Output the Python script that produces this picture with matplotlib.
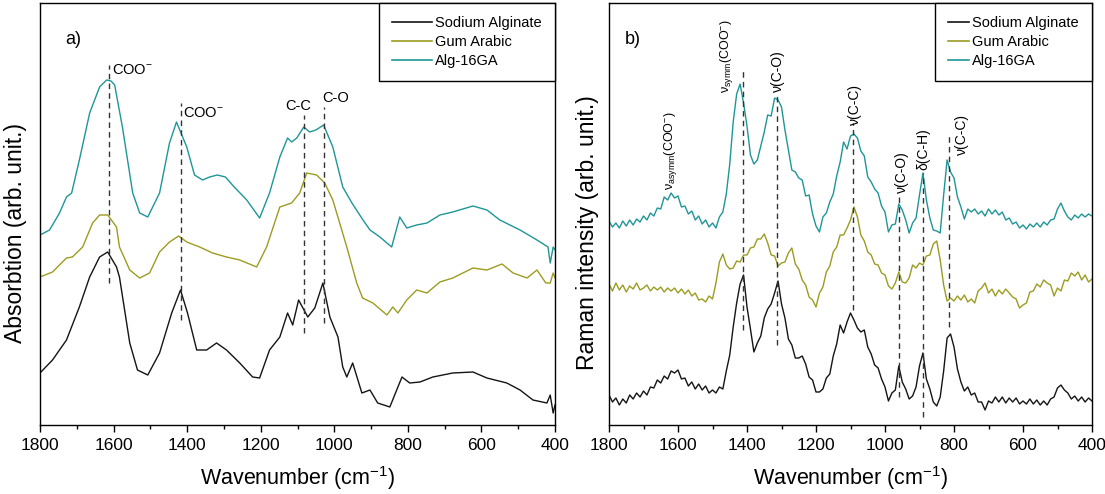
import matplotlib
matplotlib.use("Agg")
import matplotlib.pyplot as plt
from matplotlib.ticker import MultipleLocator

plt.rcParams['font.family'] = ['Liberation Sans', 'DejaVu Sans']
plt.rcParams['mathtext.fontset'] = 'custom'
plt.rcParams['mathtext.rm'] = 'Liberation Sans'
plt.rcParams['mathtext.it'] = 'Liberation Sans:italic'

# ---------------- FTIR (panel a) ----------------
ftir_alg16_wn = [1800, 1774, 1747, 1728, 1714, 1693, 1665, 1638, 1619, 1607, 1597, 1576, 1548, 1529, 1507,
                 1475, 1448, 1429, 1401, 1380, 1358, 1339, 1318, 1296, 1272, 1238, 1203, 1176, 1148, 1127,
                 1116, 1102, 1083, 1067, 1050, 1029, 1004, 977, 952, 922, 903, 876, 844, 822, 803, 776,
                 748, 713, 678, 623, 585, 550, 495, 449, 419, 413, 405, 400]
ftir_alg16_int = [195, 200, 217, 233, 237, 270, 317, 343, 350, 349, 345, 303, 237, 217, 213,
                  237, 287, 308, 283, 255, 250, 253, 255, 253, 243, 230, 212, 237, 273, 292,
                  288, 292, 303, 298, 300, 305, 283, 243, 227, 210, 200, 193, 183, 213, 202, 205,
                  207, 215, 218, 224, 220, 210, 200, 190, 183, 167, 183, 180]

ftir_gum_wn = [1800, 1766, 1728, 1712, 1684, 1657, 1638, 1616, 1592, 1584, 1556, 1529, 1502, 1475, 1448,
               1423, 1401, 1366, 1331, 1293, 1257, 1211, 1184, 1148, 1116, 1094, 1075, 1048, 1026, 1004,
               966, 939, 923, 895, 857, 841, 827, 803, 776, 748, 713, 678, 623, 585, 544, 514, 476,
               449, 425, 413, 405, 400]
ftir_gum_int = [153, 158, 172, 173, 183, 207, 215, 215, 203, 183, 160, 152, 157, 178, 188,
                194, 188, 183, 177, 173, 170, 163, 183, 223, 227, 237, 257, 255, 247, 230,
                183, 147, 132, 127, 115, 123, 117, 130, 140, 137, 148, 152, 162, 160, 166, 157, 152,
                160, 147, 147, 157, 152]

ftir_na_wn = [1800, 1766, 1728, 1693, 1665, 1638, 1616, 1592, 1584, 1556, 1535, 1507, 1475, 1442, 1418,
              1399, 1374, 1347, 1320, 1293, 1257, 1222, 1203, 1176, 1148, 1127, 1113, 1097, 1072, 1053,
              1031, 1012, 990, 977, 966, 950, 925, 903, 882, 849, 816, 795, 767, 732, 678, 623, 585,
              531, 495, 460, 422, 413, 405, 400]
ftir_na_int = [57, 70, 90, 123, 153, 173, 178, 163, 153, 87, 60, 55, 77, 117, 140,
               117, 80, 80, 87, 80, 67, 53, 52, 80, 93, 117, 105, 130, 113, 122,
               147, 113, 93, 63, 53, 67, 37, 40, 27, 23, 53, 47, 48, 53, 57, 58, 52,
               47, 40, 30, 27, 35, 17, 25]

ftir_lines_wn = [1612, 1418, 1082, 1028]
ftir_lines_lo = [147, 110, 97, 107]
ftir_lines_hi = [365, 327, 315, 323]

# ---------------- Raman (panel b) ----------------
raman_wn = list(range(1800, 399, -10))
raman_alg16 = [209, 203, 207, 202, 209, 204, 210, 205, 211, 208, 214, 210, 217, 214, 222, 221, 233, 230, 237, 232,
               234, 223, 224, 216, 219, 210, 214, 206, 210, 203, 207, 202, 213, 218, 236, 266, 308, 336, 346, 327,
               304, 275, 266, 270, 284, 298, 315, 314, 332, 330, 323, 300, 280, 260, 258, 252, 250, 234, 235, 216,
               204, 198, 213, 217, 228, 236, 254, 268, 288, 281, 294, 296, 292, 279, 274, 253, 248, 241, 237, 224,
               218, 198, 205, 206, 226, 220, 210, 197, 207, 212, 235, 257, 230, 212, 200, 199, 197, 235, 270, 258,
               252, 233, 223, 211, 221, 218, 221, 216, 219, 214, 221, 216, 220, 215, 218, 210, 212, 206, 208, 202,
               205, 201, 206, 203, 207, 203, 208, 205, 210, 211, 221, 227, 219, 213, 210, 215, 212, 216, 213, 216,
               214]
raman_gum = [146, 139, 147, 140, 145, 138, 144, 141, 147, 140, 142, 145, 139, 143, 140, 143, 138, 142, 139, 142,
             137, 141, 136, 140, 134, 137, 130, 131, 128, 134, 131, 147, 168, 176, 165, 161, 162, 169, 168, 175,
             175, 182, 183, 191, 191, 196, 187, 175, 174, 164, 167, 168, 177, 182, 166, 161, 150, 145, 133, 130,
             123, 137, 143, 158, 164, 178, 183, 195, 195, 202, 210, 223, 213, 195, 189, 178, 175, 166, 165, 157,
             155, 144, 141, 147, 158, 148, 147, 152, 165, 162, 167, 165, 174, 175, 186, 189, 170, 145, 129, 132,
             129, 134, 130, 135, 128, 131, 127, 139, 142, 147, 137, 141, 134, 140, 136, 141, 137, 133, 131, 122,
             125, 127, 138, 139, 146, 143, 150, 147, 145, 134, 142, 139, 150, 149, 157, 154, 158, 150, 155, 148,
             151]
raman_na = [35, 28, 32, 25, 31, 27, 35, 31, 37, 33, 39, 35, 43, 42, 50, 47, 54, 51, 59, 57,
            60, 51, 52, 44, 48, 41, 46, 40, 44, 37, 40, 37, 43, 41, 59, 75, 103, 127, 146, 155,
            123, 101, 78, 87, 94, 112, 121, 126, 137, 149, 126, 112, 91, 85, 72, 72, 74, 66, 53, 50,
            38, 38, 41, 52, 56, 74, 86, 105, 97, 108, 117, 110, 102, 98, 100, 83, 76, 65, 62, 51,
            43, 29, 37, 40, 64, 48, 41, 31, 34, 43, 64, 77, 51, 41, 28, 24, 33, 59, 92, 96,
            83, 61, 48, 39, 43, 35, 37, 28, 28, 20, 29, 27, 33, 28, 33, 27, 32, 28, 32, 26,
            29, 26, 31, 26, 30, 25, 29, 25, 31, 33, 42, 45, 40, 37, 31, 34, 29, 33, 28, 32,
            29]

raman_lines_wn = [1411, 1313, 1093, 959, 890, 814]
raman_lines_lo = [100, 85, 120, 33, 13, 103]
raman_lines_hi = [362, 337, 307, 237, 257, 297]

labels = ['Sodium Alginate', 'Gum Arabic', 'Alg-16GA']
colors = ['#141414', '#9c9c22', '#1f9696']

fig = plt.figure(figsize=(11.05, 4.94), dpi=100)
ax_a = fig.add_axes([40/1105, 69/494, 515/1105, 422/494])
ax_b = fig.add_axes([609/1105, 69/494, 483/1105, 422/494])

lw = 1.0
ax_a.plot(ftir_na_wn, ftir_na_int, color=colors[0], lw=lw, label=labels[0])
ax_a.plot(ftir_gum_wn, ftir_gum_int, color=colors[1], lw=lw, label=labels[1])
ax_a.plot(ftir_alg16_wn, ftir_alg16_int, color=colors[2], lw=lw, label=labels[2])
ax_a.vlines(ftir_lines_wn, ftir_lines_lo, ftir_lines_hi, colors='#333333', linestyles=(0, (4, 3)), lw=1.0)

ax_b.plot(raman_wn, raman_na, color=colors[0], lw=lw, label=labels[0])
ax_b.plot(raman_wn, raman_gum, color=colors[1], lw=lw, label=labels[1])
ax_b.plot(raman_wn, raman_alg16, color=colors[2], lw=lw, label=labels[2])
ax_b.vlines(raman_lines_wn, raman_lines_lo, raman_lines_hi, colors='#333333', linestyles=(0, (4, 3)), lw=1.0)

for ax in (ax_a, ax_b):
    ax.set_xlim(1800, 400)
    ax.set_ylim(5, 427)
    ax.set_yticks([])
    ax.xaxis.set_major_locator(MultipleLocator(200))
    ax.xaxis.set_minor_locator(MultipleLocator(100))
    ax.tick_params(axis='x', which='major', direction='out', length=5, width=1, labelsize=12.5, pad=4)
    ax.tick_params(axis='x', which='minor', direction='out', length=3, width=1)
    for s in ax.spines.values():
        s.set_linewidth(1.0)
    ax.set_xlabel(r'Wavenumber (cm$^{\mathregular{-1}}$)', fontsize=15.5, labelpad=8)

ax_a.set_ylabel('Absorbtion (arb. unit.)', fontsize=16.5)
ax_a.yaxis.set_label_coords(-0.025, 0.455)
ax_b.set_ylabel('Raman intensity (arb. unit.)', fontsize=16.5)
ax_b.yaxis.set_label_coords(-0.02, 0.455)

leg_a = ax_a.legend(loc='upper right', fontsize=10.5, frameon=True, fancybox=False, framealpha=1,
                    edgecolor='black', borderaxespad=0, handlelength=2.7, handletextpad=0.25,
                    labelspacing=0.35, borderpad=0.9)
leg_a.get_frame().set_linewidth(1.0)
leg_b = ax_b.legend(loc='upper right', fontsize=10.5, frameon=True, fancybox=False, framealpha=1,
                    edgecolor='black', borderaxespad=0, handlelength=1.4, handletextpad=0.25,
                    labelspacing=0.35, borderpad=0.9)
leg_b.get_frame().set_linewidth(1.0)
for leg in (leg_a, leg_b):
    for h in leg.get_lines():
        h.set_linewidth(1.2)

# panel letters
ax_a.text(1730, 390, 'a)', fontsize=13, va='center', ha='left')
ax_b.text(1755, 390, 'b)', fontsize=13, va='center', ha='left')

# FTIR annotations
ax_a.text(1603, 360, r'COO$^{\mathregular{-}}$', fontsize=10.5, ha='left', va='center')
ax_a.text(1412, 317, r'COO$^{\mathregular{-}}$', fontsize=10.5, ha='left', va='center')
ax_a.text(1097, 324, 'C-C', fontsize=10.5, ha='center', va='center')
ax_a.text(996, 332, 'C-O', fontsize=10.5, ha='center', va='center')

# Raman annotations (rotated)
rfs = 10
sfs = 9
ax_b.text(1623, 240, r'ν$_{\mathregular{asymm}}$(COO$^{\mathregular{-}}$)', fontsize=sfs, rotation=90, ha='center', va='bottom')
ax_b.text(1458, 337, r'ν$_{\mathregular{symm}}$(COO$^{\mathregular{-}}$)', fontsize=sfs, rotation=90, ha='center', va='bottom')
ax_b.text(1310, 338, 'ν(C-O)', fontsize=rfs, rotation=90, ha='center', va='bottom')
ax_b.text(1087, 305, 'ν(C-C)', fontsize=rfs, rotation=90, ha='center', va='bottom')
ax_b.text(951, 237, 'ν(C-O)', fontsize=rfs, rotation=90, ha='center', va='bottom')
ax_b.text(890, 260, 'δ(C-H)', fontsize=rfs, rotation=90, ha='center', va='bottom')
ax_b.text(777, 275, 'ν(C-C)', fontsize=rfs, rotation=90, ha='center', va='bottom')

fig.savefig('out.png', dpi=100)
